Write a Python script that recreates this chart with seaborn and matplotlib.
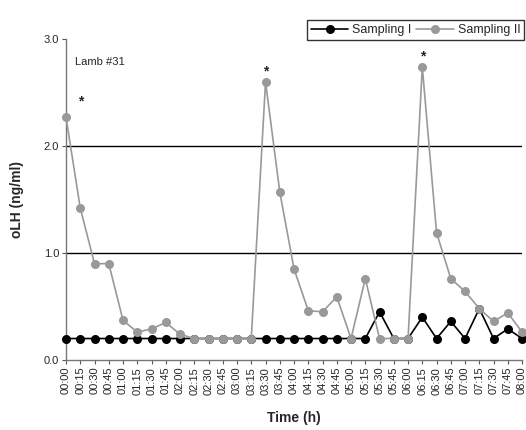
import numpy as np
import pandas as pd
import matplotlib
matplotlib.use("Agg")
import matplotlib.pyplot as plt
import seaborn as sns

#----------DATA-----------------#
times = ["00:00", "00:15", "00:30", "00:45", "01:00", "01:15", "01:30", "01:45",
         "02:00", "02:15", "02:30", "02:45", "03:00", "03:15", "03:30", "03:45",
         "04:00", "04:15", "04:30", "04:45", "05:00", "05:15", "05:30", "05:45",
         "06:00", "06:15", "06:30", "06:45", "07:00", "07:15", "07:30", "07:45",
         "08:00"]

sampling_1 = [0.2, 0.2, 0.2, 0.2, 0.2, 0.2, 0.2, 0.2,
              0.2, 0.2, 0.2, 0.2, 0.2, 0.2, 0.2, 0.2,
              0.2, 0.2, 0.2, 0.2, 0.2, 0.2, 0.45, 0.2,
              0.2, 0.40, 0.2, 0.36, 0.2, 0.48, 0.2, 0.29,
              0.2]

sampling_2 = [2.27, 1.42, 0.90, 0.90, 0.37, 0.26, 0.29, 0.35,
              0.24, 0.2, 0.2, 0.2, 0.2, 0.2, 2.60, 1.57,
              0.85, 0.46, 0.45, 0.59, 0.2, 0.76, 0.2, 0.2,
              0.2, 2.74, 1.19, 0.76, 0.64, 0.48, 0.36, 0.44,
              0.26]

# peaks marked with an asterisk (time label, value)
star_times  = ["00:15", "03:30", "06:15"]
star_values = [2.42, 2.70, 2.84]

series_names = ["Sampling I", "Sampling II"]
colors       = ["black", "#999999"]

df = pd.DataFrame({
    "idx":   list(range(len(times))) * 2,
    "value": sampling_1 + sampling_2,
    "series": [series_names[0]] * len(times) + [series_names[1]] * len(times),
})

#----------PLOT-----------------#
sns.set_style("white")
plt.rcParams["font.family"] = ["Liberation Sans", "DejaVu Sans"]

fig = plt.figure(figsize=(5.26, 4.30), dpi=100)
ax = fig.add_axes([0.1255, 0.163, 0.867, 0.746])

for name, col, z in zip(series_names, colors, [3, 4]):
    sub = df[df["series"] == name]
    sns.lineplot(data=sub, x="idx", y="value", color=col, marker="o",
                 markersize=6.5, markeredgewidth=0, linewidth=1.2,
                 label=name, ax=ax, zorder=z, clip_on=False)

for t, v in zip(star_times, star_values):
    ax.text(times.index(t), v, "*", ha="center", va="center",
            fontsize=10, fontweight="bold")

ax.text(0.02, 0.93, "Lamb #31", transform=ax.transAxes, fontsize=8,
        ha="left", va="center")

ax.set_xlim(0, len(times) - 1)
ax.set_ylim(0, 3.0)
ax.set_xticks(range(len(times)))
ax.set_xticklabels(times, rotation=90, fontsize=8)
ax.set_yticks([0, 1, 2, 3])
ax.set_yticklabels(["0.0", "1.0", "2.0", "3.0"], fontsize=8)
ax.tick_params(axis="both", direction="out", length=3, width=0.8,
               color="#555555", pad=2, left=True, bottom=True)

for y in [1.0, 2.0]:
    ax.axhline(y, color="black", linewidth=1.0, zorder=1)

for s in ["top", "right"]:
    ax.spines[s].set_visible(False)
for s in ["left", "bottom"]:
    ax.spines[s].set_color("#777777")
    ax.spines[s].set_linewidth(1.0)

ax.set_xlabel("Time (h)", fontsize=10, fontweight="bold", labelpad=12)
ax.set_ylabel("oLH (ng/ml)", fontsize=10, fontweight="bold", labelpad=14)

leg = ax.legend(loc="upper right", bbox_to_anchor=(0.996, 0.953),
                bbox_transform=fig.transFigure, ncol=2, fontsize=9,
                frameon=True, fancybox=False, handlelength=3,
                columnspacing=0.4, handletextpad=0.3, borderpad=0.3,
                borderaxespad=0)
leg.get_frame().set_edgecolor("black")
leg.get_frame().set_linewidth(1.0)

plt.savefig("out.png", dpi=100)
